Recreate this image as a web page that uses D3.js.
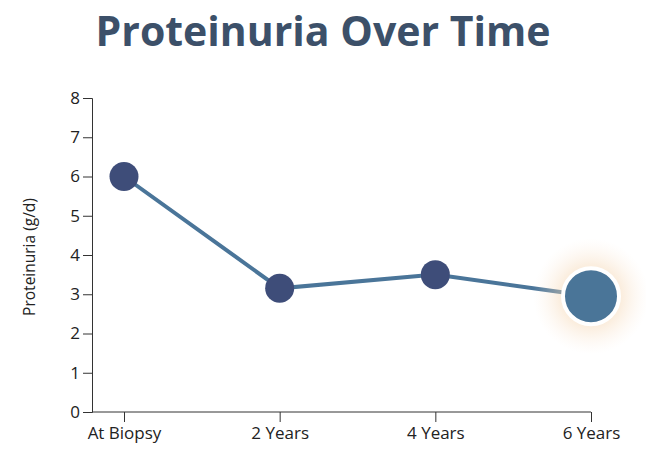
<!DOCTYPE html>
<html>
<head>
<meta charset="utf-8">
<script src="https://cdn.jsdelivr.net/npm/d3@7"></script>
<style>
  body { margin: 0; background: #fff; }
  svg { display: block; font-family: "Open Sans", sans-serif; }
</style>
</head>
<body>
<div id="chart"></div>
<script>
// data
var categories = ["At Biopsy", "2 Years", "4 Years", "6 Years"];
var proteinuria = [6.0, 3.15, 3.5, 2.95];
var yTicks = [0, 1, 2, 3, 4, 5, 6, 7, 8];

var width = 646, height = 459;
var margin = { top: 98, right: 55, bottom: 47, left: 92 };

var svg = d3.select("#chart").append("svg")
    .attr("width", width)
    .attr("height", height);

//glow for the latest point
var defs = svg.append("defs");
var glow = defs.append("radialGradient").attr("id", "glow");
glow.append("stop").attr("offset", "0%").attr("stop-color", "#f1c28c").attr("stop-opacity", 0.75);
glow.append("stop").attr("offset", "55%").attr("stop-color", "#f5d6b2").attr("stop-opacity", 0.4);
glow.append("stop").attr("offset", "100%").attr("stop-color", "#fbeadb").attr("stop-opacity", 0);

//title
svg.append("text")
    .attr("x", 323)
    .attr("y", 46)
    .attr("text-anchor", "middle")
    .style("font-family", "'Open Sans', sans-serif")
    .style("font-weight", 700)
    .style("font-size", "41px")
    .style("fill", "#3c5069")
    .text("Proteinuria Over Time");

//scales
var xScale = d3.scalePoint()
    .domain(categories)
    .range([124, width - margin.right]);

var yScale = d3.scaleLinear()
    .domain([0, 8])
    .range([height - margin.bottom, margin.top]);

//x-axis
var xAxis = svg.append("g")
    .attr("transform", "translate(0," + (height - margin.bottom) + ")")
    .call(d3.axisBottom(xScale).tickSizeOuter(0).tickSize(10).tickPadding(5));
// stretch domain line back to the y axis
xAxis.select(".domain")
    .attr("d", "M" + margin.left + ",0H" + (width - margin.right));

//y-axis
var yAxis = svg.append("g")
    .attr("transform", "translate(" + margin.left + ",0)")
    .call(d3.axisLeft(yScale).tickValues(yTicks).tickSizeOuter(0).tickSize(9).tickPadding(3));

svg.selectAll(".tick text")
    .style("font-family", "'Open Sans', sans-serif")
    .style("font-size", "17px")
    .style("fill", "#222");
svg.selectAll(".domain, .tick line").attr("stroke", "#333");

//y-label
svg.append("text")
    .attr("transform", "translate(35,257) rotate(-90)")
    .attr("text-anchor", "middle")
    .style("font-family", "'Open Sans', sans-serif")
    .style("font-size", "15.5px")
    .style("fill", "#222")
    .text("Proteinuria (g/d)");

//line
var line = d3.line()
    .x((d, i) => xScale(categories[i]))
    .y(d => yScale(d));

svg.append("path")
    .datum(proteinuria)
    .attr("fill", "none")
    .attr("stroke", "#4a7599")
    .attr("stroke-width", 4)
    .attr("d", line);

//points
var last = proteinuria.length - 1;

svg.append("circle")
    .attr("cx", xScale(categories[last]))
    .attr("cy", yScale(proteinuria[last]))
    .attr("r", 58)
    .attr("fill", "url(#glow)");

svg.selectAll(".dot")
    .data(proteinuria)
    .enter()
    .append("circle")
    .attr("class", "dot")
    .attr("cx", (d, i) => xScale(categories[i]))
    .attr("cy", d => yScale(d))
    .attr("r", (d, i) => i === last ? 28 : 14.5)
    .attr("fill", (d, i) => i === last ? "#4a7598" : "#3e4d79")
    .attr("stroke", (d, i) => i === last ? "#fff" : "none")
    .attr("stroke-width", 4);
</script>
</body>
</html>
